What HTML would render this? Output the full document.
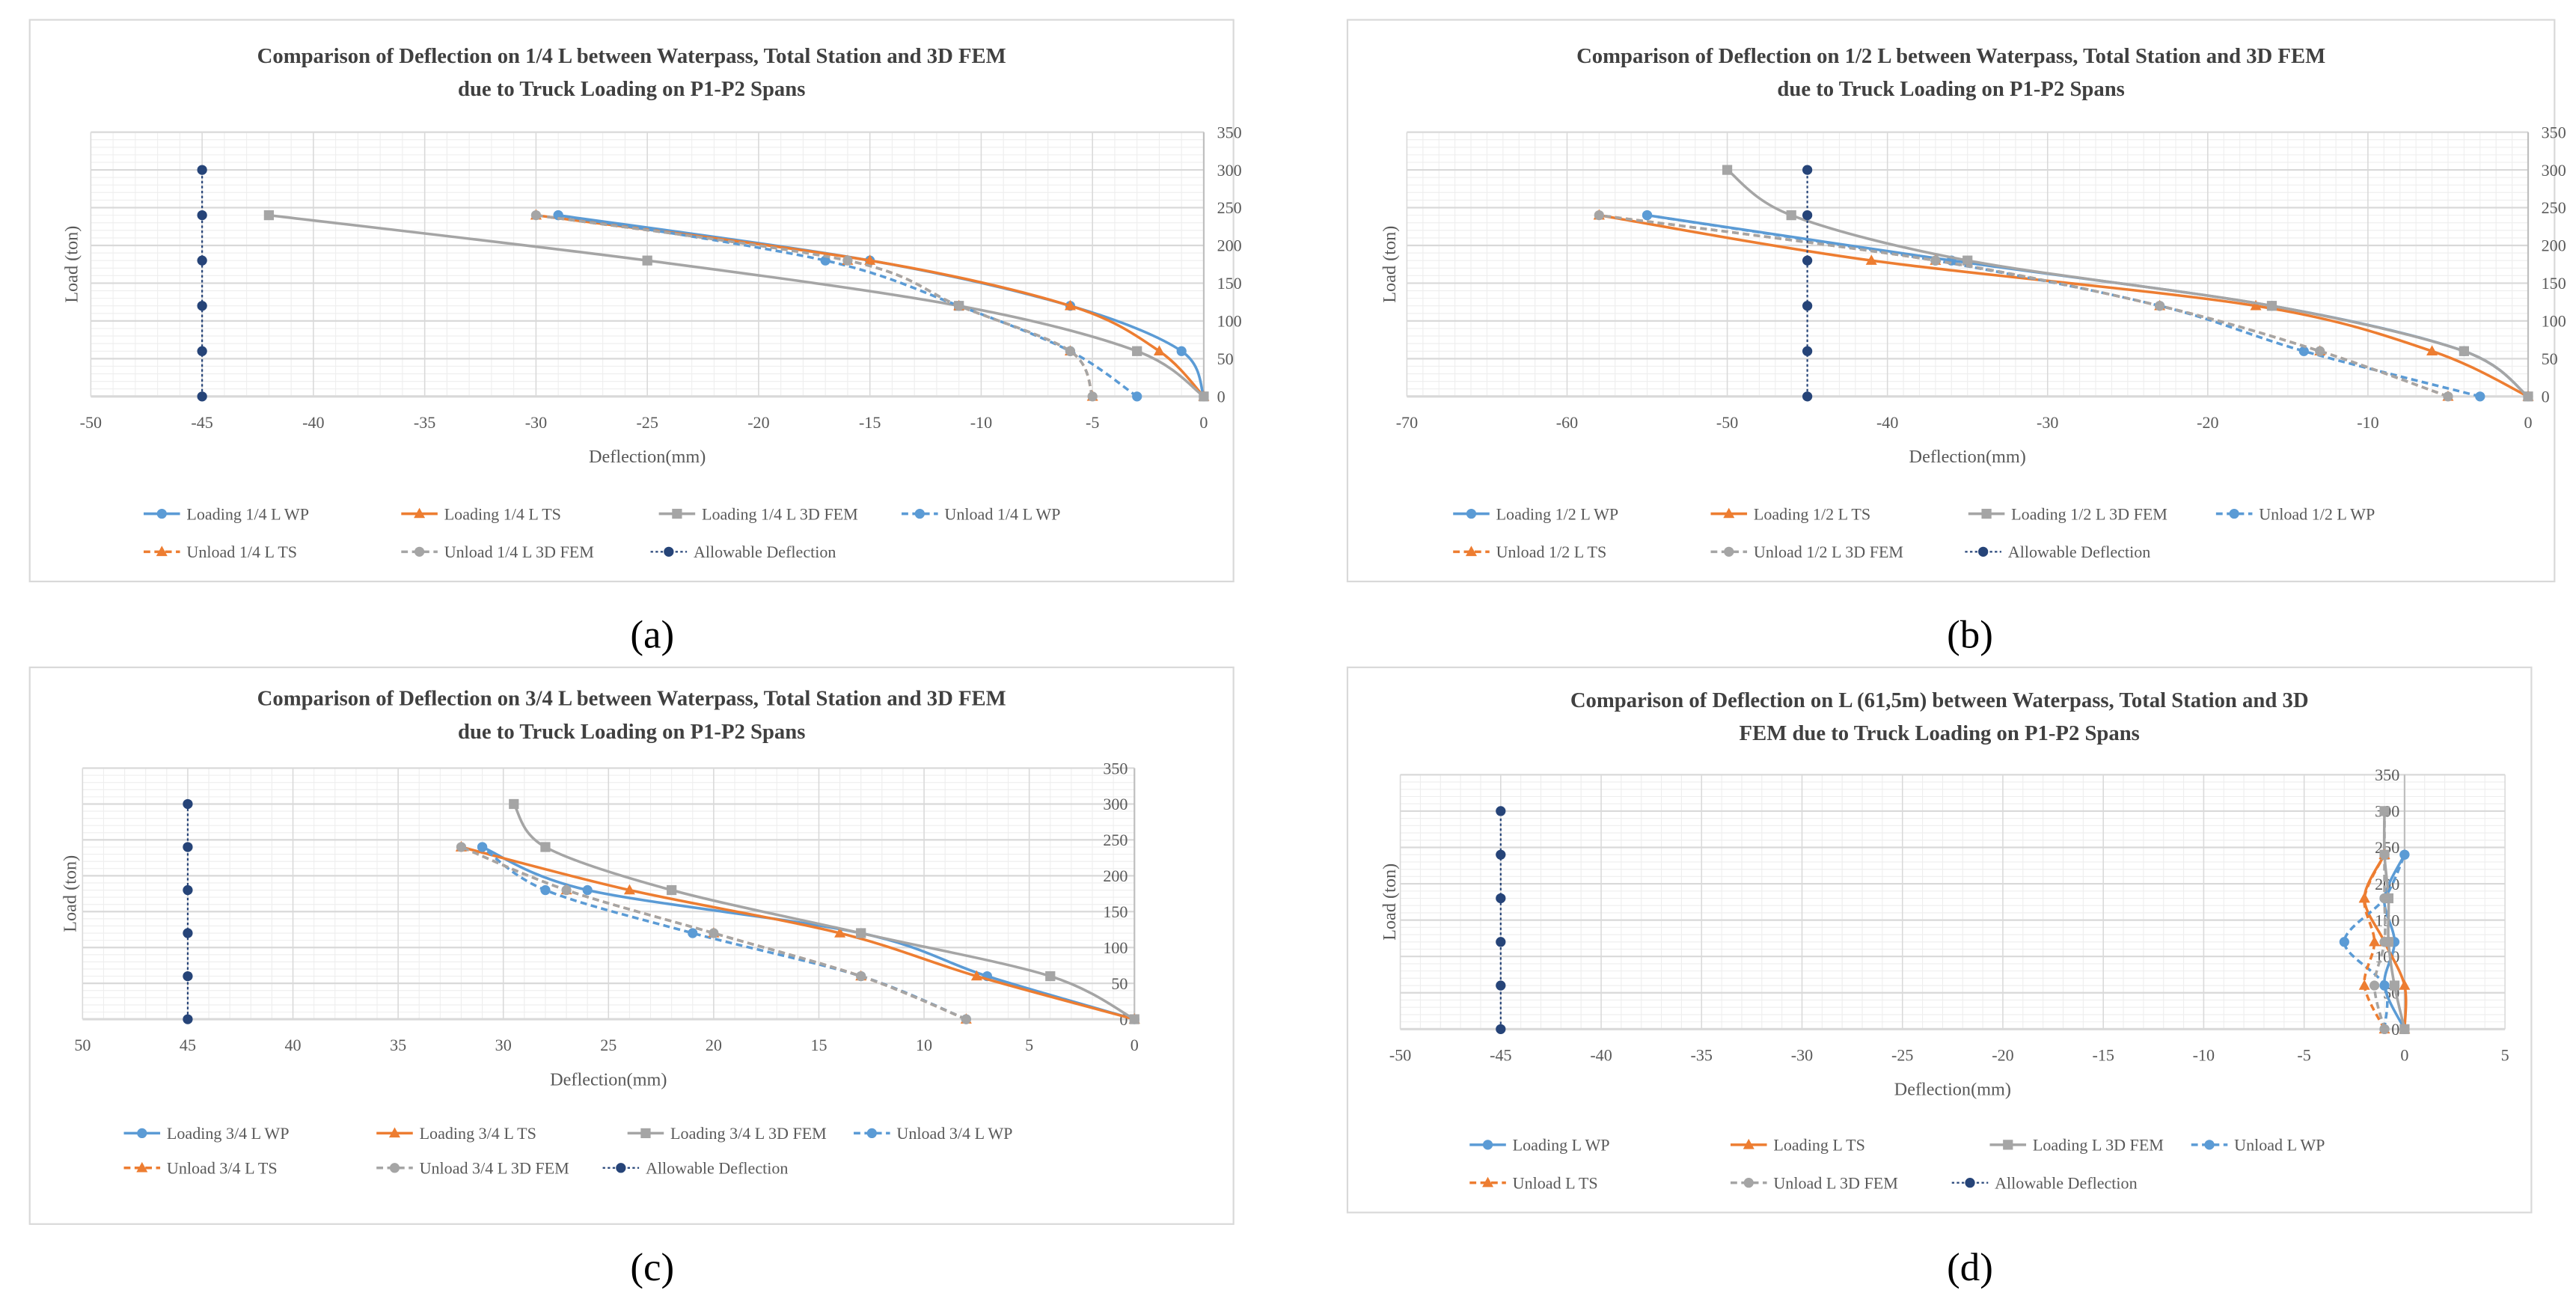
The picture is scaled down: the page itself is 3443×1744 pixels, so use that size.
<!DOCTYPE html>
<html><head><meta charset="utf-8"><style>
html,body{margin:0;padding:0;background:#fff;}
svg{display:block;}
text{font-family:"Liberation Serif",serif;}
</style></head><body>
<svg id="fig" width="3443" height="1744" viewBox="0 0 1560 790" preserveAspectRatio="none" xmlns="http://www.w3.org/2000/svg"></svg>
<script>
// ---------- Data (loads in ton, deflection in mm) ----------
const loads5 = [0, 60, 120, 180, 240];
const loads6 = [0, 60, 120, 180, 240, 300];
// Chart A: 1/4 L
const a_loadingWP = [0, -1, -6, -15, -29];
const a_loadingTS = [0, -2, -6, -15, -30];
const a_loadingFEM = [0, -3, -11, -25, -42];
const a_unloadWP = [-3, -6, -11, -17, -29];
const a_unloadTS = [-5, -6, -11, -16, -30];
const a_unloadFEM = [-5, -6, -11, -16, -30];
const a_allow = [-45, -45, -45, -45, -45, -45];
// Chart B: 1/2 L
const b_loadingWP = [0, -4, -16, -36, -55];
const b_loadingTS = [0, -6, -17, -41, -58];
const b_loadingFEM = [0, -4, -16, -35, -46, -50];
const b_unloadWP = [-3, -14, -23, -37, -55];
const b_unloadTS = [-5, -13, -23, -37, -58];
const b_unloadFEM = [-5, -13, -23, -37, -58];
const b_allow = [-45, -45, -45, -45, -45, -45];
// Chart C: 3/4 L (reversed axis, positive values)
const c_loadingWP = [0, 7, 13, 26, 31];
const c_loadingTS = [0, 7.5, 14, 24, 32];
const c_loadingFEM = [0, 4, 13, 22, 28, 29.5];
const c_unloadWP = [8, 13, 21, 28, 31];
const c_unloadTS = [8, 13, 20, 27, 32];
const c_unloadFEM = [8, 13, 20, 27, 32];
const c_allow = [45, 45, 45, 45, 45, 45];
// Chart D: L (61,5m)
const d_loadingWP = [0, -1, -0.5, -1, 0];
const d_loadingTS = [0, 0, -1, -2, -1];
const d_loadingFEM = [0, -0.5, -0.8, -0.8, -1, -1];
const d_unloadWP = [-1, -1, -3, -1, 0];
const d_unloadTS = [-1, -2, -1.5, -2, -1];
const d_unloadFEM = [-1, -1.5, -1, -1, -1, -1];
const d_allow = [-45, -45, -45, -45, -45, -45];
// Tick labels
const yTicks = [0, 50, 100, 150, 200, 250, 300, 350];
const xTicksA = [-50, -45, -40, -35, -30, -25, -20, -15, -10, -5, 0];
const xTicksB = [-70, -60, -50, -40, -30, -20, -10, 0];
const xTicksC = [50, 45, 40, 35, 30, 25, 20, 15, 10, 5, 0];
const xTicksD = [-50, -45, -40, -35, -30, -25, -20, -15, -10, -5, 0, 5];

const NS = "http://www.w3.org/2000/svg";
const svg = document.getElementById('fig');
function mk(tag, attrs, parent, txt) {
  const e = document.createElementNS(NS, tag);
  for (const k in attrs) e.setAttribute(k, attrs[k]);
  if (txt !== undefined) e.textContent = txt;
  (parent || svg).appendChild(e);
  return e;
}
const BLUE = '#5b9bd5', ORANGE = '#ed7d31', GRAY = '#a5a5a5', DARK = '#264478';

function smoothPath(pts) {
  if (pts.length < 2) return '';
  let d = 'M' + pts[0][0] + ',' + pts[0][1];
  for (let i = 0; i < pts.length - 1; i++) {
    const p0 = pts[i - 1] || pts[i], p1 = pts[i], p2 = pts[i + 1], p3 = pts[i + 2] || p2;
    const t = 0.16;
    const c1 = [p1[0] + (p2[0] - p0[0]) * t, p1[1] + (p2[1] - p0[1]) * t];
    const c2 = [p2[0] - (p3[0] - p1[0]) * t, p2[1] - (p3[1] - p1[1]) * t];
    d += ' C' + c1 + ' ' + c2 + ' ' + p2;
  }
  return d;
}
function marker(g, type, x, y, color) {
  let m;
  if (type === 'circle') m = mk('circle', {cx: x, cy: y, r: 3, fill: color}, g);
  else if (type === 'tri') m = mk('polygon', {points: `${x},${y-3.6} ${x-3.4},${y+2.6} ${x+3.4},${y+2.6}`, fill: color}, g);
  else m = mk('rect', {x: x - 3, y: y - 3, width: 6, height: 6, fill: color}, g);
  
  
}

function chart(cfg) {
  const g = mk('g', {});
  
  
  const f = mk('rect', {x: cfg.frame[0], y: cfg.frame[1], width: cfg.frame[2], height: cfg.frame[3], fill: '#fff', stroke: '#d9d9d9', 'stroke-width': 1}, g);
  
  
  const cx = (cfg.frame[0] + cfg.frame[0] + cfg.frame[2]) / 2;
  cfg.title.forEach((t, i) => {
    const e = mk('text', {x: cx, y: cfg.titleY + i * 20, 'text-anchor': 'middle', 'font-size': 13, 'font-weight': 'bold', fill: '#404040'}, g, t);
    
    
  });
  const [x0, x1, px0, px1] = cfg.xmap;
  const X = v => px0 + (v - x0) / (x1 - x0) * (px1 - px0);
  const Y = v => cfg.py0 + (v / 350) * (cfg.py350 - cfg.py0);
  const xmin = Math.min(x0, x1), xmax = Math.max(x0, x1);
  const grid = mk('g', {}, g);
  
  
  for (let v = xmin; v <= xmax; v += 1) mk('line', {x1: X(v), x2: X(v), y1: Y(0), y2: Y(350), stroke: '#eeeeee', 'stroke-width': 0.5}, grid);
  for (let v = 0; v <= 350; v += 10) mk('line', {x1: X(xmin), x2: X(xmax), y1: Y(v), y2: Y(v), stroke: '#eeeeee', 'stroke-width': 0.5}, grid);
  cfg.xticks.forEach(v => mk('line', {x1: X(v), x2: X(v), y1: Y(0), y2: Y(350), stroke: '#d9d9d9', 'stroke-width': 0.7}, grid));
  yTicks.forEach(v => mk('line', {x1: X(xmin), x2: X(xmax), y1: Y(v), y2: Y(v), stroke: '#d9d9d9', 'stroke-width': v === 0 ? 1.4 : 1}, grid));
  mk('line', {x1: X(0), x2: X(0), y1: Y(0), y2: Y(350), stroke: '#bfbfbf', 'stroke-width': 1}, grid);
  cfg.xticks.forEach(v => {
    const e = mk('text', {x: X(v), y: Y(0) + 19, 'text-anchor': 'middle', 'font-size': 10, fill: '#595959'}, g, String(v));
    
    
  });
  yTicks.forEach(v => {
    const e = mk('text', {x: X(0) + cfg.ylabDx, y: Y(v) + 3.5, 'text-anchor': cfg.ylabAnchor, 'font-size': 10, fill: '#595959'}, g, String(v));
    
    
  });
  const xt = mk('text', {x: (X(xmin) + X(xmax)) / 2 + cfg.xtitleDx, y: Y(0) + 40, 'text-anchor': 'middle', 'font-size': 11, fill: '#595959'}, g, 'Deflection(mm)');
  
  
  const ym = (Y(0) + Y(350)) / 2;
  const yt = mk('text', {x: cfg.ytitleX, y: ym, 'text-anchor': 'middle', 'font-size': 11, fill: '#595959', transform: `rotate(-90 ${cfg.ytitleX} ${ym})`}, g, 'Load (ton)');
  
  
  cfg.series.forEach(s => {
    const sg = mk('g', {}, g);
    
    
    const pts = s.x.map((v, i) => [X(v), Y(s.y[i])]);
    const p = mk('path', {d: s.smooth === false ? 'M' + pts.join(' L') : smoothPath(pts), fill: 'none', stroke: s.color, 'stroke-width': s.dash === 'dot' ? 1 : 1.6, 'stroke-dasharray': s.dash === 'dash' ? '4 2.5' : (s.dash === 'dot' ? '1.5 1.5' : 'none')}, sg);
    
    
    pts.forEach(q => marker(sg, s.mk, q[0], q[1], s.color));
  });
  const lg = mk('g', {}, g);
  
  
  cfg.series.forEach((s, i) => {
    const lx = cfg.legX[i], ly = cfg.legY[i < 4 ? 0 : 1];
    const eg = mk('g', {}, lg);
    
    
    mk('line', {x1: lx, x2: lx + 22, y1: ly, y2: ly, stroke: s.color, 'stroke-width': s.dash === 'dot' ? 1 : 1.6, 'stroke-dasharray': s.dash === 'dash' ? '4 2.5' : (s.dash === 'dot' ? '1.5 1.5' : 'none')}, eg);
    marker(eg, s.mk, lx + 11, ly, s.color);
    mk('text', {x: lx + 26, y: ly + 3.5, 'font-size': 10, fill: '#595959'}, eg, s.label);
  });
  const cap = mk('text', {x: cfg.capX, y: cfg.capY, 'text-anchor': 'middle', 'font-size': 24, fill: '#000'}, svg, cfg.cap);
  
  
}
function seriesSet(pre, lwp, lts, lfem, uwp, uts, ufem, al) {
  const L = n => n === 6 ? loads6 : loads5;
  return [
    {id: 'loading-wp', label: `Loading ${pre}WP`, x: lwp, y: L(lwp.length), color: BLUE, mk: 'circle', dash: 'none'},
    {id: 'loading-ts', label: `Loading ${pre}TS`, x: lts, y: L(lts.length), color: ORANGE, mk: 'tri', dash: 'none'},
    {id: 'loading-3d-fem', label: `Loading ${pre}3D FEM`, x: lfem, y: L(lfem.length), color: GRAY, mk: 'sq', dash: 'none'},
    {id: 'unload-wp', label: `Unload ${pre}WP`, x: uwp, y: L(uwp.length), color: BLUE, mk: 'circle', dash: 'dash'},
    {id: 'unload-ts', label: `Unload ${pre}TS`, x: uts, y: L(uts.length), color: ORANGE, mk: 'tri', dash: 'dash'},
    {id: 'unload-3d-fem', label: `Unload ${pre}3D FEM`, x: ufem, y: L(ufem.length), color: GRAY, mk: 'circle', dash: 'dash'},
    {id: 'allowable-deflection', label: 'Allowable Deflection', x: al, y: loads6, color: DARK, mk: 'circle', dash: 'dot', smooth: false}
  ];
}
chart({name: 'chart-quarter-span', frame: [18, 12, 729, 340], titleY: 38,
  title: ['Comparison of Deflection  on 1/4 L between Waterpass, Total Station and 3D FEM', 'due to Truck Loading on P1-P2 Spans'],
  xmap: [-50, 0, 55, 729], py0: 240, py350: 80, xticks: xTicksA, ylabDx: 8, ylabAnchor: 'start', xtitleDx: 0, ytitleX: 47,
  series: seriesSet('1/4 L ', a_loadingWP, a_loadingTS, a_loadingFEM, a_unloadWP, a_unloadTS, a_unloadFEM, a_allow),
  legX: [87, 243, 399, 546, 87, 243, 394], legY: [311, 334], cap: '(a)', capX: 395, capY: 392});
chart({name: 'chart-half-span', frame: [816, 12, 731, 340], titleY: 38,
  title: ['Comparison of Deflection  on 1/2 L between Waterpass, Total Station and 3D FEM', 'due to Truck Loading on P1-P2 Spans'],
  xmap: [-70, 0, 852, 1531], py0: 240, py350: 80, xticks: xTicksB, ylabDx: 8, ylabAnchor: 'start', xtitleDx: 0, ytitleX: 845,
  series: seriesSet('1/2 L ', b_loadingWP, b_loadingTS, b_loadingFEM, b_unloadWP, b_unloadTS, b_unloadFEM, b_allow),
  legX: [880, 1036, 1192, 1342, 880, 1036, 1190], legY: [311, 334], cap: '(b)', capX: 1193, capY: 392});
chart({name: 'chart-three-quarter-span', frame: [18, 404, 729, 337], titleY: 427,
  title: ['Comparison of Deflection  on 3/4 L between Waterpass, Total Station and 3D FEM', 'due to Truck Loading on P1-P2 Spans'],
  xmap: [50, 0, 50, 687], py0: 617, py350: 465, xticks: xTicksC, ylabDx: -4, ylabAnchor: 'end', xtitleDx: 0, ytitleX: 46,
  series: seriesSet('3/4 L ', c_loadingWP, c_loadingTS, c_loadingFEM, c_unloadWP, c_unloadTS, c_unloadFEM, c_allow),
  legX: [75, 228, 380, 517, 75, 228, 365], legY: [686, 707], cap: '(c)', capX: 395, capY: 775});
chart({name: 'chart-full-span', frame: [816, 404, 717, 330], titleY: 428,
  title: ['Comparison of Deflection  on L (61,5m) between Waterpass, Total Station and 3D', 'FEM due to Truck Loading on P1-P2 Spans'],
  xmap: [-50, 5, 848, 1517], py0: 623, py350: 469, xticks: xTicksD, ylabDx: -3, ylabAnchor: 'end', xtitleDx: 0, ytitleX: 845,
  series: seriesSet('L ', d_loadingWP, d_loadingTS, d_loadingFEM, d_unloadWP, d_unloadTS, d_unloadFEM, d_allow),
  legX: [890, 1048, 1205, 1327, 890, 1048, 1182], legY: [693, 716], cap: '(d)', capX: 1193, capY: 775});
</script>
</body></html>
